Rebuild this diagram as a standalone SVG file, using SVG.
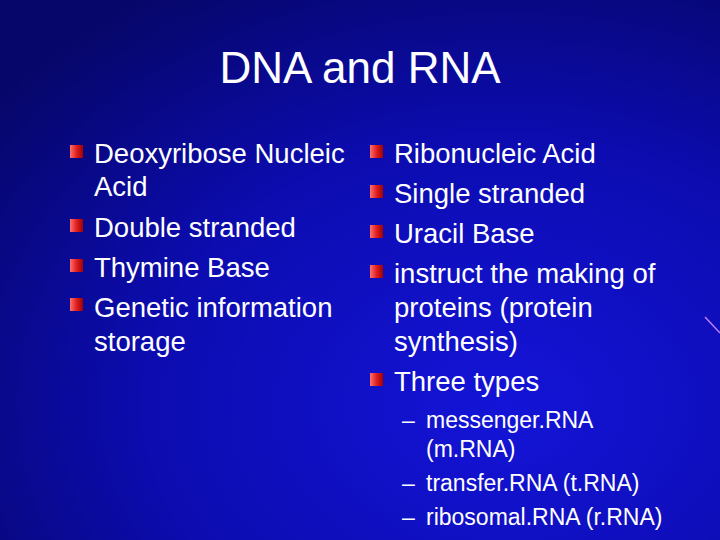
<svg xmlns="http://www.w3.org/2000/svg" width="720" height="540" viewBox="0 0 720 540">
<defs>
<radialGradient id="bg" cx="0.7" cy="0.75" r="0.9">
<stop offset="0" stop-color="#1414d8"/>
<stop offset="0.55" stop-color="#0c0cb0"/>
<stop offset="1" stop-color="#06066a"/>
</radialGradient>
<linearGradient id="bul" x1="0" y1="0" x2="1" y2="0">
<stop offset="0" stop-color="#ff7070"/>
<stop offset="0.5" stop-color="#e02020"/>
<stop offset="1" stop-color="#a00000"/>
</linearGradient>
<style>
text{font-family:"Liberation Sans",Arial,sans-serif;fill:#fff}
.b{font-size:27.5px}
.s{font-size:23px}
</style>
<rect id="bu" width="13" height="13" fill="url(#bul)"/>
</defs>
<rect width="720" height="540" fill="url(#bg)"/>
<line x1="705" y1="317" x2="720" y2="333" stroke="#c080ff" stroke-width="1.5"/>
<text x="360" y="83" font-size="44" text-anchor="middle">DNA and RNA</text>
<g id="left">
<use href="#bu" x="70" y="145"/>
<use href="#bu" x="70" y="219"/>
<use href="#bu" x="70" y="259"/>
<use href="#bu" x="70" y="298"/>
<text class="b" x="94" y="163">Deoxyribose Nucleic</text>
<text class="b" x="94" y="196">Acid</text>
<text class="b" x="94" y="237">Double stranded</text>
<text class="b" x="94" y="277">Thymine Base</text>
<text class="b" x="94" y="317">Genetic information</text>
<text class="b" x="94" y="351">storage</text>
</g>
<g id="right">
<use href="#bu" x="370" y="145"/>
<use href="#bu" x="370" y="185"/>
<use href="#bu" x="370" y="225"/>
<use href="#bu" x="370" y="265"/>
<use href="#bu" x="370" y="373"/>
<text class="b" x="394" y="163">Ribonucleic Acid</text>
<text class="b" x="394" y="203">Single stranded</text>
<text class="b" x="394" y="243">Uracil Base</text>
<text class="b" x="394" y="283">instruct the making of</text>
<text class="b" x="394" y="317">proteins (protein</text>
<text class="b" x="394" y="351">synthesis)</text>
<text class="b" x="394" y="391">Three types</text>
<text class="s" x="402" y="428">–</text><text class="s" x="426" y="428">messenger.RNA</text>
<text class="s" x="426" y="457">(m.RNA)</text>
<text class="s" x="402" y="491">–</text><text class="s" x="426" y="491">transfer.RNA (t.RNA)</text>
<text class="s" x="402" y="525">–</text><text class="s" x="426" y="525">ribosomal.RNA (r.RNA)</text>
</g>
</svg>
